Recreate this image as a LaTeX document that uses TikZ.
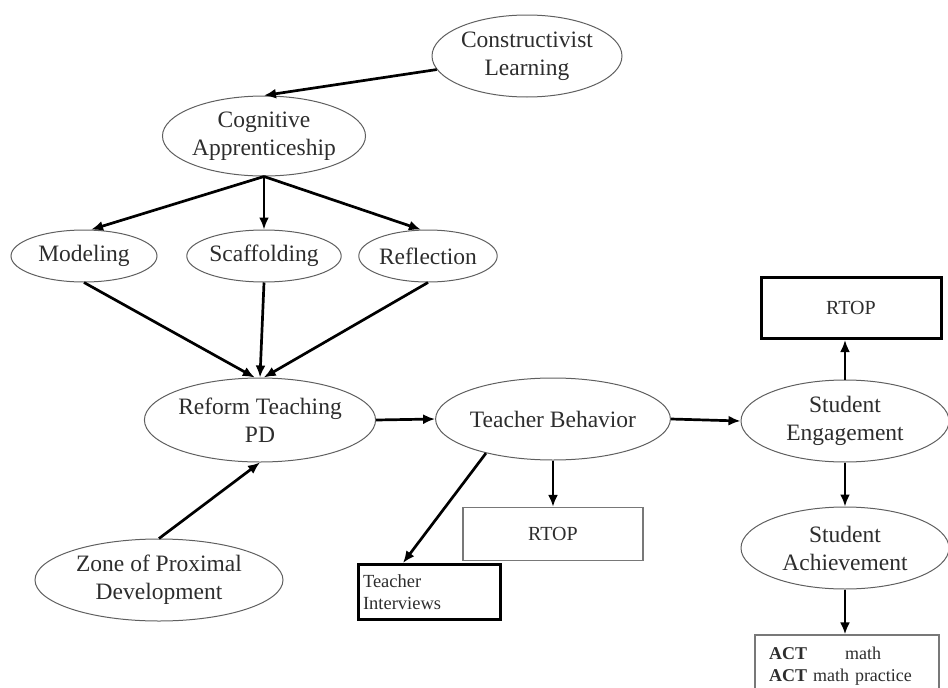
\documentclass[tikz,border=0pt]{standalone}
\usepackage{fontspec}
\setmainfont{Liberation Serif}
\usetikzlibrary{shapes.geometric,arrows.meta}
\definecolor{cd-line-grey}{RGB}{95,95,95}
\definecolor{cd-text-grey}{RGB}{45,45,45}
\definecolor{cd-box-grey}{RGB}{120,120,120}

\begin{document}
\begin{tikzpicture}[x=1pt,y=-1pt,
  ell/.style={ellipse,draw=cd-line-grey,line width=1pt,inner sep=0pt,align=center,text=cd-text-grey,font=\fontsize{23.5}{28}\selectfont},
  thickbox/.style={rectangle,draw=black,line width=3pt,inner sep=0pt,text=cd-text-grey},
  thinbox/.style={rectangle,draw=cd-box-grey,line width=1.2pt,inner sep=0pt,text=cd-text-grey},
  pfeil/.style={line width=2.7pt,-{Latex[length=12pt,width=10pt]}}]
\useasboundingbox (0,0) rectangle (948,688);
%Ellipsen:
\node[ell,minimum width=190pt,minimum height=82pt] (konst) at (527,56) {Constructivist\\Learning};
\node[ell,minimum width=198pt,minimum height=80pt] (kogn) at (264,136) {Cognitive\\Apprenticeship};
\node[ell,minimum width=146pt,minimum height=52pt] (model) at (84,256) {Modeling};
\node[ell,minimum width=146pt,minimum height=52pt] (scaff) at (264,256) {Scaffolding};
\node[ell,minimum width=130pt,minimum height=52pt] (refl) at (428,256) {Reflection};
\node[ell,minimum width=222pt,minimum height=84pt] (reform) at (260,420) {Reform Teaching\\PD};
\node[ell,minimum width=248pt,minimum height=82pt] (zone) at (159,580) {Zone of Proximal\\Development};
\node[ell,minimum width=220pt,minimum height=82pt] (tb) at (553,419) {Teacher Behavior};
\node[ell,minimum width=208pt,minimum height=82pt] (se) at (845,421) {Student\\Engagement};
\node[ell,minimum width=208pt,minimum height=82pt] (sa) at (845,548) {Student\\Achievement};
%Kaesten:
\node[thickbox,minimum width=180pt,minimum height=61pt,font=\fontsize{20}{23}\selectfont] (rtopA) at (851,308) {RTOP};
\node[thinbox,minimum width=180pt,minimum height=53pt,font=\fontsize{20}{23}\selectfont] (rtopB) at (553,534) {RTOP};
\node[thickbox,minimum width=142pt,minimum height=55pt,inner xsep=5pt,text width=132pt,align=left,font=\fontsize{18.5}{22}\selectfont] (ti) at (429,592) {Teacher\\Interviews};
\node[thinbox,minimum width=184pt,minimum height=62pt,inner xsep=14pt,text width=156pt,align=left,font=\fontsize{18}{22}\selectfont] (act) at (847,666) {\textbf{ACT}\hspace{38pt}math\\\textbf{ACT} math practice};
%Pfeile:
\draw[pfeil] (konst) -- (kogn.north);
\draw[pfeil] (kogn.south) -- (model.75);
\draw[pfeil] (kogn.south) -- (scaff.north);
\draw[pfeil] (kogn.south) -- (refl.105);
\draw[pfeil] (model.south) -- (reform.97);
\draw[pfeil] (scaff.south) -- (reform.north);
\draw[pfeil] (refl.south) -- (reform.85);
\draw[pfeil] (zone.north) -- (reform.south);
\draw[pfeil] (reform.east) -- (tb.west);
\draw[pfeil] (tb.east) -- (se.west);
\draw[pfeil] (tb.south) -- (rtopB.north);
\draw[pfeil] (tb.207) -- ([xshift=-26pt]ti.north);
\draw[pfeil] (se.north) -- (se.north |- rtopA.south);
\draw[pfeil] (se.south) -- (sa.north);
\draw[pfeil] (sa.south) -- (sa.south |- act.north);
\end{tikzpicture}
\end{document}
